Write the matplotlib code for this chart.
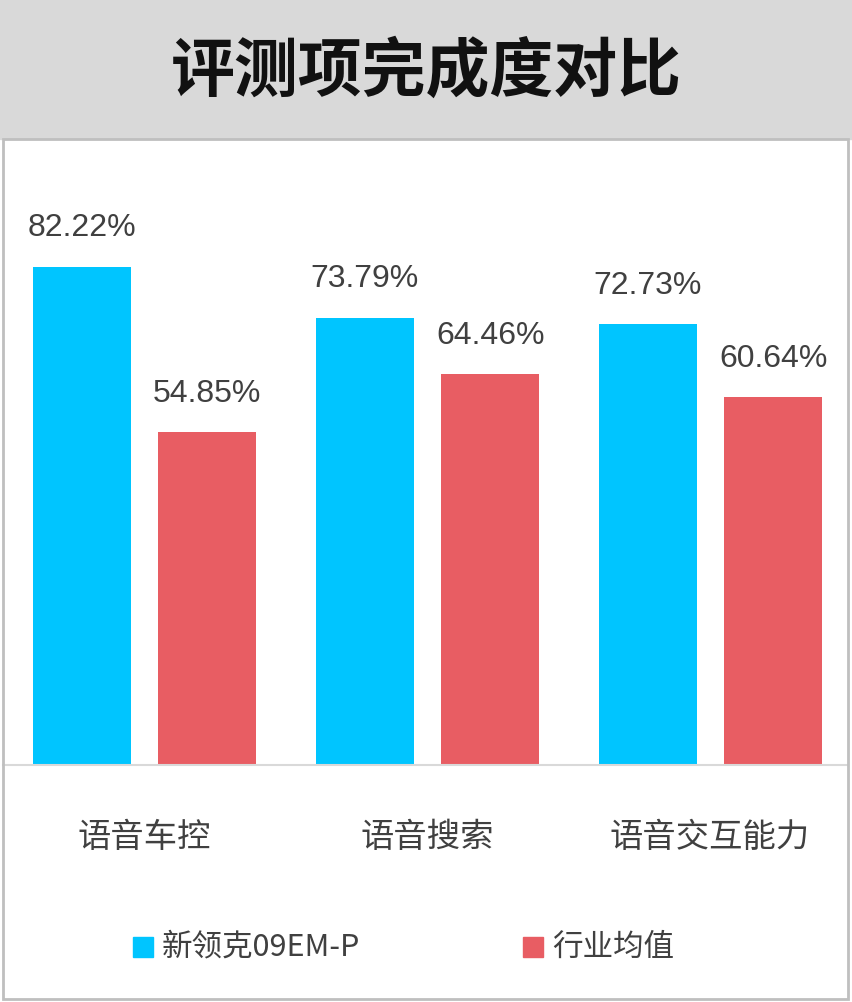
import matplotlib
matplotlib.use("Agg")
import matplotlib.pyplot as plt
import numpy as np
from matplotlib.patches import Rectangle

plt.rcParams['font.family'] = ['Noto Sans CJK SC', 'DejaVu Sans']

categories = ["语音车控", "语音搜索", "语音交互能力"]
series_names = ["新领克09EM-P", "行业均值"]
vals_a = [82.22, 73.79, 72.73]
vals_b = [54.85, 64.46, 60.64]
colors = ["#00C5FF", "#E85D63"]

fig = plt.figure(figsize=(8.52, 10.03), dpi=100)
W, H = 852, 1003
# title band
fig.patches.append(Rectangle((0, 1-140/H), 1, 140/H, transform=fig.transFigure, color="#D9D9D9", zorder=0))
fig.text(0.5, 1-72/H, "评测项完成度对比", ha="center", va="center", fontsize=46, fontweight="bold", color="#111111")
# border
fig.patches.append(Rectangle((3/W, 3/H), 845/W, (H-143)/H, transform=fig.transFigure, fill=False, ec="#BFBFBF", lw=2, zorder=5))

ax = fig.add_axes([0, 1-765/H, 1, (765-140)/H])
x = np.arange(len(categories))
w = 98/283
ax.bar(x - 0.222, vals_a, w, color=colors[0], label=series_names[0])
ax.bar(x + 0.222, vals_b, w, color=colors[1], label=series_names[1])
for xi, a, b in zip(x, vals_a, vals_b):
    ax.text(xi - 0.222, a + 4, f"{a:.2f}%", ha="center", va="bottom", fontsize=23, color="#404040", family=["Liberation Sans"])
    ax.text(xi + 0.222, b + 4, f"{b:.2f}%", ha="center", va="bottom", fontsize=23, color="#404040", family=["Liberation Sans"])
ax.set_xlim(-0.51, 2.5)
ax.set_ylim(0, 103.3)
ax.axis("off")
fig.add_artist(plt.Line2D([3/W, 848/W], [1-766/H]*2, color="#D9D9D9", lw=1.5))

for xi, c in zip([144, 427, 710], categories):
    fig.text(xi/W, 1-838/H, c, ha="center", va="center", fontsize=24, color="#404040")

# legend
fig.patches.append(Rectangle((133/W, 1-958/H), 20/W, 20/H, transform=fig.transFigure, color=colors[0]))
fig.text(162/W, 1-947/H, series_names[0], va="center", fontsize=22, color="#404040")
fig.patches.append(Rectangle((523/W, 1-958/H), 20/W, 20/H, transform=fig.transFigure, color=colors[1]))
fig.text(552/W, 1-947/H, series_names[1], va="center", fontsize=22, color="#404040")

fig.savefig("out.png", dpi=100)
